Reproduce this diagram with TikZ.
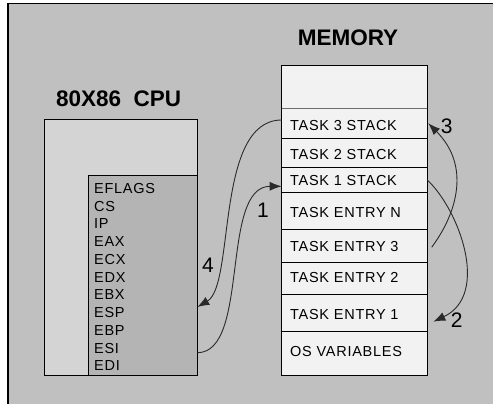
\documentclass[tikz,border=0pt]{standalone}
\usepackage{fontspec}
\setmainfont{Liberation Sans}
\newfontfamily\spacedfont[LetterSpace=5]{Liberation Sans}
\usetikzlibrary{arrows.meta,calc}
\definecolor{bgc}{HTML}{C0C0C0}
\definecolor{cpuout}{HTML}{D4D4D4}
\definecolor{cpuin}{HTML}{B4B4B4}
\definecolor{memc}{HTML}{F2F2F2}
\definecolor{linec}{HTML}{2A2A2A}
\definecolor{divc}{HTML}{6E6E6E}
\begin{document}
\begin{tikzpicture}[x=1pt,y=-1pt,
  box/.style={draw=black, line width=1pt, inner sep=0pt, outer sep=0pt, anchor=north west},
  memrow/.style={box, fill=memc, minimum width=145.6pt},
  memtxt/.style={anchor=west, font=\spacedfont\fontsize{14.5}{16}\selectfont, inner sep=0pt},
  regtxt/.style={anchor=west, font=\spacedfont\fontsize{14.5}{16}\selectfont, inner sep=0pt},
  ttl/.style={font=\fontsize{22.5}{26}\selectfont\bfseries, inner sep=0pt},
  num/.style={font=\fontsize{21}{24}\selectfont, inner sep=0pt},
  conn/.style={draw=linec, line width=0.9pt, -{Latex[length=12pt,width=9pt]}}
]
\useasboundingbox (0,0) rectangle (493,404);
\fill[white] (0,0) rectangle (493,404);
\fill[bgc] (8,3.3) rectangle (493,404);
\draw[line width=1.5pt] (8,404) -- (8,3.3) -- (493,3.3);

% titles
\node[ttl] (memtitle) at (348,38) {MEMORY};
\node[ttl, anchor=west] (cputitle) at (56,98.3) {80X86~~CPU};

% CPU
\node[box, fill=cpuout, minimum width=153pt, minimum height=255.7pt] (cpu) at (44.3,119.3) {};
\node[box, fill=cpuin, minimum width=109pt, minimum height=200pt] (regs) at (88.3,175) {};
\node[regtxt] (eflags) at (94,188.7) {EFLAGS};
\node[regtxt] (cs) at (94,206.7) {CS};
\node[regtxt] (ip) at (94,224) {IP};
\node[regtxt] (eax) at (94,241.7) {EAX};
\node[regtxt] (ecx) at (94,259.7) {ECX};
\node[regtxt] (edx) at (94,277.7) {EDX};
\node[regtxt] (ebx) at (94,295) {EBX};
\node[regtxt] (esp) at (94,312.7) {ESP};
\node[regtxt] (ebp) at (94,330.7) {EBP};
\node[regtxt] (esi) at (94,348.3) {ESI};
\node[regtxt] (edi) at (94,366) {EDI};

% Memory
\node[memrow, minimum height=42.6pt] (blank) at (281.7,65.7) {};
\node[memrow, minimum height=30pt] (t3s) at (281.7,108.3) {};
\node[memrow, minimum height=29pt] (t2s) at (281.7,138.3) {};
\node[memrow, minimum height=25pt] (t1s) at (281.7,167.3) {};
\node[memrow, minimum height=37pt] (ten) at (281.7,192.3) {};
\node[memrow, minimum height=32.7pt] (te3) at (281.7,229.3) {};
\node[memrow, minimum height=32.3pt] (te2) at (281.7,262) {};
\node[memrow, minimum height=37.4pt] (te1) at (281.7,294.3) {};
\node[memrow, minimum height=43.3pt] (osv) at (281.7,331.7) {};
\draw[divc, line width=1pt] (t3s.north west) -- (t3s.north east);

\node[memtxt] (lt3s) at (290,126) {TASK 3 STACK};
\node[memtxt] (lt2s) at (290,155) {TASK 2 STACK};
\node[memtxt] (lt1s) at (290,180.7) {TASK 1 STACK};
\node[memtxt] (lten) at (290,213) {TASK ENTRY N};
\node[memtxt] (lte3) at (290,246.7) {TASK ENTRY 3};
\node[memtxt] (lte2) at (290,278) {TASK ENTRY 2};
\node[memtxt] (lte1) at (290,315) {TASK ENTRY 1};
\node[memtxt] (losv) at (290,351.7) {OS VARIABLES};

% connectors
\draw[conn] ($(regs.east |- esi.west)+(0,4.4)$) .. controls +(53,0) and +(-62,0) .. ($(t1s.west)+(0,6.5)$);
\draw[conn] ($(t3s.west)+(0,-3.3)$) .. controls +(-67,0) and +(38,-22) .. ($(regs.east |- esp.west)+(0,-5.7)$);
\draw[conn] ($(t1s.east)+(0,0.2)$) .. controls +(32,30) and +(57,-27) .. ($(te1.east)+(6,8.7)$);
\draw[conn] ($(te3.east)+(4.4,1.6)$) .. controls +(26,-35) and +(42,42) .. ($(t3s.east)+(1,0)$);

% numbers
\node[num] (n1) at (263,210) {1};
\node[num] (n2) at (456.7,320) {2};
\node[num] (n3) at (446.7,126.7) {3};
\node[num] (n4) at (208,265.7) {4};
\end{tikzpicture}
\end{document}
